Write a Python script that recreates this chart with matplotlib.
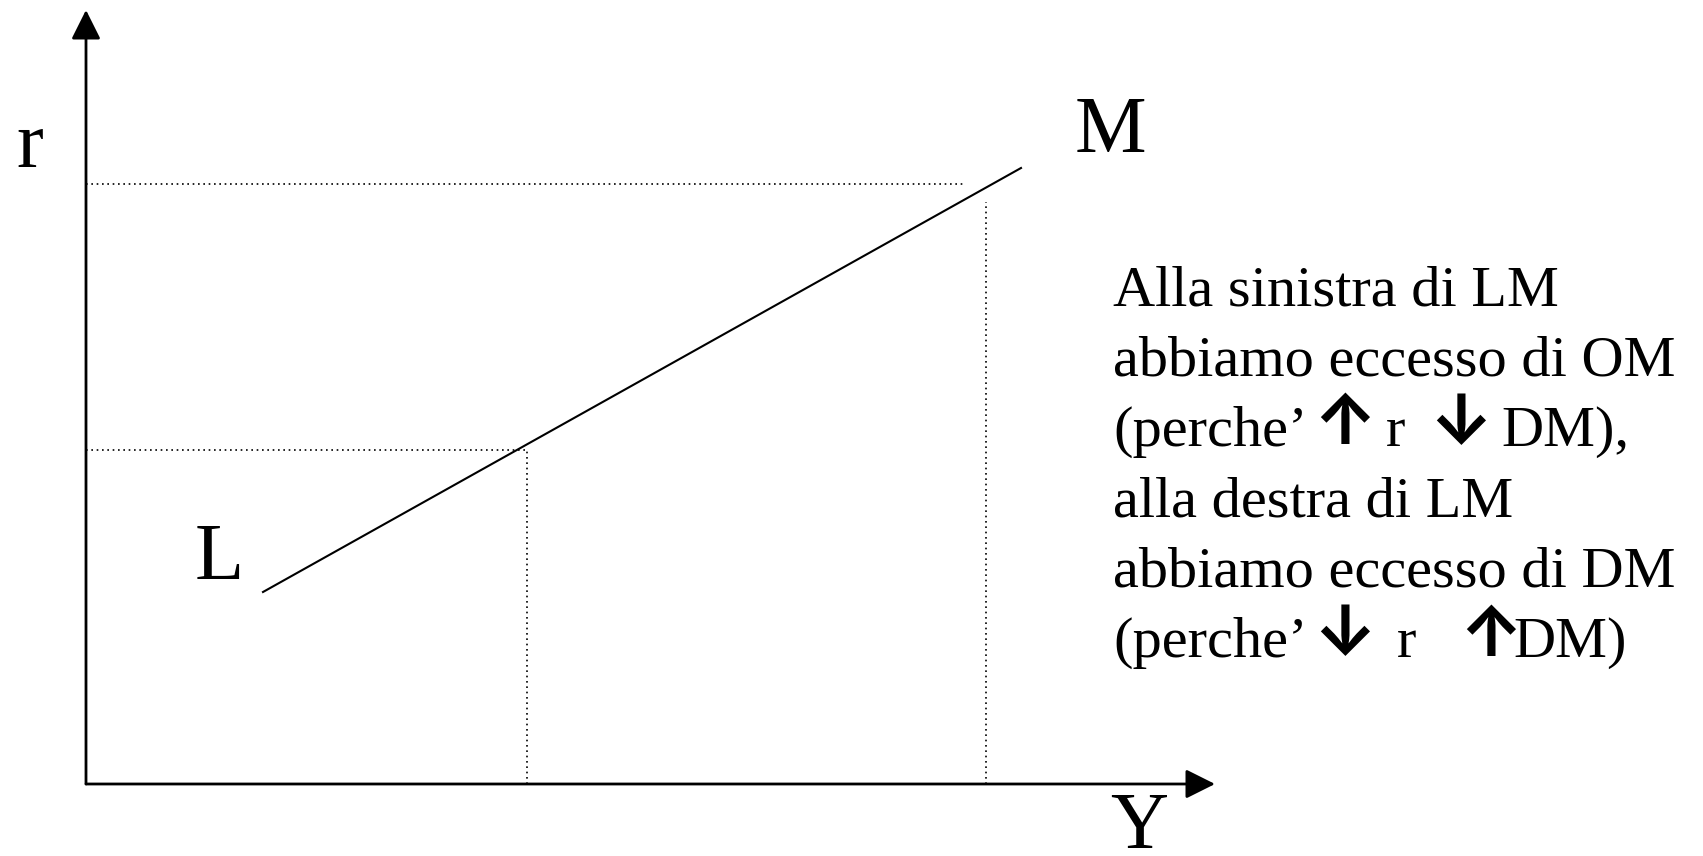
import matplotlib.pyplot as plt

# LM curve and reference points (Y on the x axis, r on the y axis)
Y_lm = [177, 935]
r_lm = [192, 616]
Y_low, r_low = 441, 334
Y_high, r_high = 900, 600
Y_high_hline_end = 879
r_high_vline_top = 582

# text block: plain lines and lines with arrow pieces (text, x position in px)
text_lines = [
    "Alla sinistra di LM",
    "abbiamo eccesso di OM",
    None,
    "alla destra di LM",
    "abbiamo eccesso di DM",
    None,
]
arrow_lines = {
    2: [("(perche\u2019", 1113), ("\u2191", 1345), ("r", 1386), ("\u2193", 1461), ("DM),", 1501)],
    5: [("(perche\u2019", 1113), ("\u2193", 1345), ("r", 1397), ("\u2191", 1491), ("DM)", 1513)],
}

W, H = 1703, 856
fig = plt.figure(figsize=(W / 100, H / 100), dpi=100)
x0, y0 = 86, 784
ax = fig.add_axes([x0 / W, (H - y0) / H, 1129 / W, 774 / H])
ax.set_xlim(0, 1129)
ax.set_ylim(0, 774)
ax.axis('off')

serif = ['Liberation Serif', 'DejaVu Sans']

# axes with arrow heads
arrow = dict(arrowstyle='-|>,head_length=0.9,head_width=0.45', color='black',
             lw=2.0, shrinkA=0, shrinkB=0, mutation_scale=20)
ax.annotate('', xy=(0, 774), xytext=(0, 0), arrowprops=arrow, annotation_clip=False)
ax.annotate('', xy=(1129, 0), xytext=(0, 0), arrowprops=arrow, annotation_clip=False)

# LM line
ax.plot(Y_lm, r_lm, color='black', lw=1.5, clip_on=False)

# dotted guides
dot = dict(color='black', lw=1.2, linestyle=(0, (1, 2.2)), clip_on=False)
ax.plot([0, Y_low], [r_low, r_low], **dot)
ax.plot([Y_low, Y_low], [0, r_low], **dot)
ax.plot([0, Y_high_hline_end], [r_high, r_high], **dot)
ax.plot([Y_high, Y_high], [0, r_high_vline_top], **dot)

def px_text(px, py, s, size, **kw):
    kw.setdefault('family', serif)
    ax.text(px - x0, y0 - py, s, fontsize=size,
            ha='left', va='baseline', clip_on=False, **kw)

px_text(16, 167, "r", 58)
px_text(1075, 152, "M", 58)
px_text(195, 579, "L", 58)
px_text(1110, 848, "Y", 58)

for i, line in enumerate(text_lines):
    base = 305 + i * 70.4
    if line is not None:
        px_text(1113, base, line, 42)
    else:
        for s, px in arrow_lines[i]:
            if s in ("\u2191", "\u2193"):
                # arrow glyph centred on its slot
                ax.text(px - x0, y0 - (base - 20), s, fontsize=50,
                        family=['Inter', 'DejaVu Sans'], weight='bold',
                        ha='center', va='center', clip_on=False)
            else:
                px_text(px, base, s, 42)

fig.savefig('out.png', dpi=100)
